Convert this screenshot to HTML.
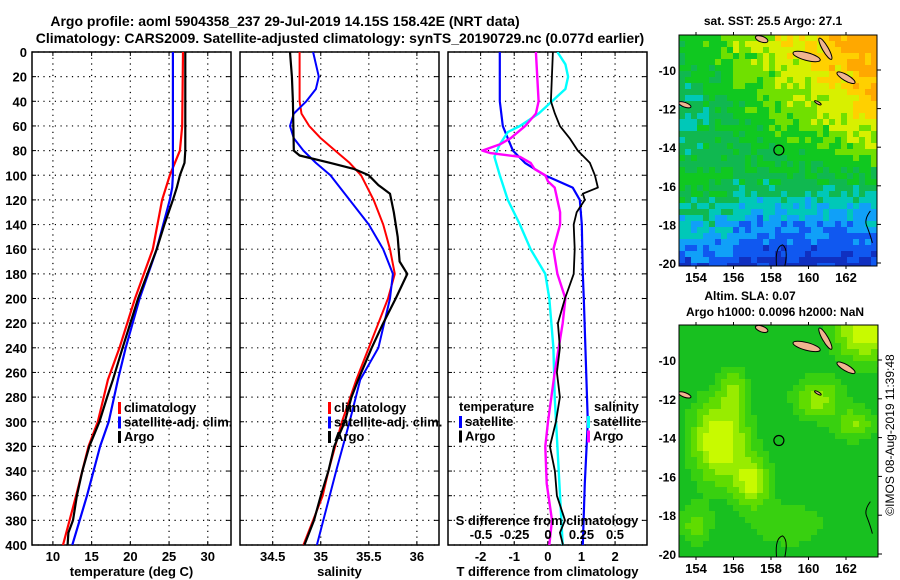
<!DOCTYPE html>
<html><head><meta charset="utf-8"><style>
html,body{margin:0;padding:0;background:#fff;}
svg{display:block;font-family:"Liberation Sans",sans-serif;font-weight:bold;}
</style></head><body>
<svg id="fig" width="900" height="580" viewBox="0 0 900 580" xmlns="http://www.w3.org/2000/svg">
<rect width="900" height="580" fill="#fff"/>
<text x="285" y="26" font-size="14" text-anchor="middle">Argo profile: aoml 5904358_237 29-Jul-2019 14.15S 158.42E (NRT data)</text>
<text x="340" y="43" font-size="14" text-anchor="middle">Climatology: CARS2009. Satellite-adjusted climatology: synTS_20190729.nc (0.077d earlier)</text>
<g id="g"></g>
</svg>
<script>
// ---- temperature profiles ----
const tempArgoDepth=[0,80,90,100,110,120,140,160,200,240,266,280,300,320,340,360,380,390,400];
const tempArgo=[27.1,27.1,27.0,26.4,26.0,25.5,24.4,23.4,21.0,19.0,17.75,17.0,16.0,14.7,13.8,13.1,12.6,12.0,11.9];
const tempClimDepth=[0,60,80,100,120,160,200,240,266,300,320,360,400];
const tempClim=[26.8,26.7,26.4,25.1,24.1,22.9,20.6,18.6,17.1,15.8,14.6,13.0,11.3];
const tempSatDepth=[0,100,110,120,160,200,240,266,300,320,360,400];
const tempSat=[25.5,25.5,25.4,25.1,23.4,21.2,19.4,18.4,17.2,16.1,14.4,12.5];
// ---- salinity profiles ----
const salArgoDepth=[0,20,40,80,84,90,95,100,108,115,130,150,170,180,200,220,240,266,280,300,320,340,360,380,400];
const salArgo=[34.68,34.70,34.71,34.72,34.78,35.1,35.35,35.5,35.6,35.72,35.76,35.8,35.82,35.9,35.78,35.65,35.53,35.39,35.32,35.25,35.14,35.08,35.0,34.93,34.83];
const salClimDepth=[0,40,50,60,70,80,90,100,120,140,160,180,200,220,240,266,300,340,360,380,400];
const salClim=[34.78,34.78,34.8,34.88,35.0,35.15,35.3,35.42,35.55,35.65,35.72,35.77,35.7,35.6,35.5,35.37,35.22,35.08,35.02,34.92,34.82];
const salSatDepth=[0,20,30,40,50,60,70,80,90,100,120,140,160,180,200,240,266,300,340,400];
const salSat=[34.92,34.98,34.95,34.85,34.72,34.68,34.72,34.82,34.95,35.1,35.3,35.5,35.65,35.75,35.72,35.6,35.41,35.3,35.16,34.96];
// ---- differences ----
const tdArgoDepth=[0,40,50,60,70,80,90,100,110,115,120,130,140,160,180,200,220,240,260,280,300,320,340,360,380,390,400];
const tdArgo=[0.15,0.09,0.21,0.36,0.65,0.89,1.25,1.40,1.49,1.04,1.10,0.86,0.77,0.80,0.77,0.51,0.30,0.36,0.27,0.36,0.24,0.06,0.21,0.27,0.51,0.36,0.45];
const tdSatDepth=[0,40,60,70,80,90,100,110,120,140,180,200,300,350,400];
const tdSat=[-1.43,-1.43,-1.34,-1.19,-1.04,-0.68,-0.09,0.74,0.95,1.01,1.04,1.07,1.19,1.10,1.04];
const sdArgoDepth=[0,40,50,60,70,75,80,82,85,90,95,100,105,110,120,130,140,160,180,200,220,260,300,320,350,380,400];
const sdArgo=[-0.09,-0.07,-0.09,-0.17,-0.28,-0.36,-0.49,-0.43,-0.21,-0.13,-0.10,-0.02,0.0,0.05,0.07,0.09,0.09,0.04,0.07,0.13,0.11,0.05,0.0,-0.02,-0.01,0.03,0.01];
const sdSatDepth=[0,10,20,30,40,50,60,65,75,85,100,120,140,160,180,200,240,280,320,400];
const sdSat=[0.07,0.13,0.15,0.13,0.03,-0.07,-0.21,-0.30,-0.36,-0.40,-0.36,-0.30,-0.21,-0.13,-0.02,0.01,0.04,0.05,0.07,0.11];
const depthTicks=[0,20,40,60,80,100,120,140,160,180,200,220,240,260,280,300,320,340,360,380,400];
const tempTicks=[10,15,20,25,30];
const salTicks=[34.5,35,35.5,36];
const tdTicks=[-2,-1,0,1,2];
const sdTicks=[-0.5,-0.25,0,0.25,0.5];
const latTicks=[-10,-12,-14,-16,-18,-20];
const lonTicks=[154,156,158,160,162];
const argoLon=158.42, argoLat=-14.15;

const NS='http://www.w3.org/2000/svg';
const G=document.getElementById('g');
function mk(tag,attrs,parent){const e=document.createElementNS(NS,tag);for(const k in attrs)e.setAttribute(k,attrs[k]);(parent||G).appendChild(e);return e;}
function txt(x,y,s,size,anchor,parent,fill){const t=mk('text',{x:x,y:y,'font-size':size,'text-anchor':anchor||'start',fill:fill||'#000'},parent);t.textContent=s;return t;}

const Y0=52,Y1=545;
function yD(d){return Y0+(d/400)*(Y1-Y0);}
function lin(d0,d1,r0,r1){return v=>r0+(v-d0)/(d1-d0)*(r1-r0);}

const panels=[
 {x0:32,x1:231,sc:lin(7.3,33,32,231),ticks:tempTicks,label:'temperature (deg C)',name:'temperature-panel'},
 {x0:240,x1:439,sc:lin(34.16,36.23,240,439),ticks:salTicks,label:'salinity',name:'salinity-panel'},
 {x0:448,x1:647,sc:lin(-2.97,2.95,448,647),ticks:tdTicks,label:'T difference from climatology',name:'difference-panel'}
];
panels.forEach((p,i)=>{
 const g=mk('g',{});
 
 
 const cp=mk('clipPath',{id:'cp'+i},g);mk('rect',{x:p.x0,y:Y0,width:p.x1-p.x0,height:Y1-Y0},cp);
 depthTicks.forEach(d=>{const y=yD(d);
  mk('line',{x1:p.x0,x2:p.x1,y1:y,y2:y,stroke:'#000','stroke-width':1.2,'stroke-dasharray':'1.2,4.5'},g);
  mk('line',{x1:p.x0,x2:p.x0+4,y1:y,y2:y,stroke:'#000'},g);mk('line',{x1:p.x1-4,x2:p.x1,y1:y,y2:y,stroke:'#000'},g);
  if(i==0){const t=txt(27,y+5,String(d),13,'end',g);}
 });
 p.ticks.forEach(v=>{const x=p.sc(v);
  mk('line',{x1:x,x2:x,y1:Y0,y2:Y1,stroke:'#000','stroke-width':1.2,'stroke-dasharray':'1.2,4.5'},g);
  mk('line',{x1:x,x2:x,y1:Y0,y2:Y0+4,stroke:'#000'},g);mk('line',{x1:x,x2:x,y1:Y1-4,y2:Y1,stroke:'#000'},g);
  const t=txt(x,561,String(v),13,'middle',g);
 });
 mk('rect',{x:p.x0,y:Y0,width:p.x1-p.x0,height:Y1-Y0,fill:'none',stroke:'#000','stroke-width':1.5},g);
 const xl=txt((p.x0+p.x1)/2,576,p.label,13,'middle',g);
 
 p.g=g;
});
function line(pi,depths,vals,color,w,name,sc){
 const p=panels[pi];const f=sc||p.sc;
 const pts=vals.map((v,k)=>f(v).toFixed(1)+','+yD(depths[k]).toFixed(1)).join(' ');
 const pl=mk('polyline',{points:pts,fill:'none',stroke:color,'stroke-width':w,'clip-path':'url(#cp'+pi+')','stroke-linejoin':'round'},p.g);
 
 
}
line(0,tempClimDepth,tempClim,'#f00',2.2,'temperature-climatology-line');
line(0,tempSatDepth,tempSat,'#00f',2.2,'temperature-satellite-line');
line(0,tempArgoDepth,tempArgo,'#000',2.2,'temperature-argo-line');
line(1,salClimDepth,salClim,'#f00',2,'salinity-climatology-line');
line(1,salSatDepth,salSat,'#00f',2,'salinity-satellite-line');
line(1,salArgoDepth,salArgo,'#000',2.2,'salinity-argo-line');
const sScale=lin(-0.5,0.5,481,615);
line(2,tdSatDepth,tdSat,'#00f',2.2,'t-diff-satellite-line');
line(2,sdSatDepth,sdSat,'#0ff',2.4,'s-diff-satellite-line',sScale);
line(2,sdArgoDepth,sdArgo,'#f0f',2.4,'s-diff-argo-line',sScale);
line(2,tdArgoDepth,tdArgo,'#000',1.8,'t-diff-argo-line');

function legend(x,y,items,name){
 const g=mk('g',{});
 items.forEach((it,k)=>{const yy=y+k*14.5;
  if(it[1])mk('rect',{x:x,y:yy-10,width:3,height:12,fill:it[1]},g);
  txt(x+(it[1]?6:0),yy,it[0],13,'start',g);
 });
}
legend(118,412,[['climatology','#f00'],['satellite-adj. clim.','#00f'],['Argo','#000']],'temperature-legend');
legend(328,412,[['climatology','#f00'],['satellite-adj. clim.','#00f'],['Argo','#000']],'salinity-legend');
legend(459,411,[['temperature',null]],'diff-legend-temperature-title');
legend(459,426,[['satellite','#00f'],['Argo','#000']],'diff-legend-temperature');
legend(594,411,[['salinity',null]],'diff-legend-salinity-title');
legend(587,426,[['satellite','#0ff'],['Argo','#f0f']],'diff-legend-salinity');
{const t=txt(547,525,'S difference from climatology',13,'middle',panels[2].g);}
sdTicks.forEach(v=>{const t=txt(sScale(v),539,String(v),13,'middle',panels[2].g);});

// ---- maps ----
function hash(i,j){let h=(i*374761393+j*668265263)^0x5bd1e995;h=(h^(h>>>13))*1274126177;return ((h^(h>>>16))>>>0)/4294967296;}
function clamp(v,a,b){return Math.max(a,Math.min(b,v));}
function sstColor(lon,lat,i,j){
 let v=0.25*(lat+15.5)+0.3*(lon-158)*clamp((lat+16)/4,0,1)+(lat<-15.5?0.3*(lat+15.5):0)+(hash(i,j)-0.5)*0.9;
 if(lat<-15&&lon<156)v+=0.5;
 const cm=[[-2.3,'#1030c0'],[-1.6,'#1058f0'],[-1.0,'#10a0f8'],[-0.45,'#00c8b8'],[0.15,'#10b850'],[0.9,'#10c820'],[1.5,'#70e000'],[2.2,'#d8f000'],[2.8,'#ffd000'],[99,'#ffa800']];
 for(const c of cm)if(v<c[0])return c[1];
}
function slaColor(lon,lat){
 const b=[[155.3,-14.2,1.4,2.0,1.0],[157,-16.3,0.9,1.2,0.8],[160.5,-12,1.2,1.0,0.6],[163,-8.5,1.5,1.5,0.9],[162.5,-13.3,1.0,0.8,0.5],[156,-11.5,0.7,1.0,0.5],[154,-18.5,0.8,1.0,0.4],[159,-18.5,2,1.2,0.25]];
 let v=0;b.forEach(q=>{v+=q[4]*Math.exp(-(((lon-q[0])/q[2])**2+((lat-q[1])/q[3])**2));});
 const cm=[[0.12,'#18c020'],[0.3,'#38d010'],[0.5,'#60dc00'],[0.72,'#98ec00'],[99,'#c8fa00']];
 for(const c of cm)if(v<c[0])return c[1];
}
function drawMap(cfg){
 const g=mk('g',{});
 const lx=lin(154,162,696,846),ly=lin(-10,-20,cfg.yTop10,cfg.yTop20);
 const cell=cfg.cell;
 for(let i=0;i*cell<cfg.x1-cfg.x0;i++)for(let j=0;j*cell<cfg.y1-cfg.y0;j++){
  const x=cfg.x0+i*cell,y=cfg.y0+j*cell;
  const lon=154+(x+cell/2-696)/18.75,lat=-10-(y+cell/2-cfg.yTop10)/((cfg.yTop20-cfg.yTop10)/10);
  mk('rect',{x:x,y:y,width:Math.min(cell,cfg.x1-x)+0.3,height:Math.min(cell,cfg.y1-y)+0.3,fill:cfg.color(lon,lat,i,j)},g);
 }
 const cp=mk('clipPath',{id:'mc'+cfg.name},g);mk('rect',{x:cfg.x0,y:cfg.y0,width:cfg.x1-cfg.x0,height:cfg.y1-cfg.y0},cp);
 const ig=mk('g',{'clip-path':'url(#mc'+cfg.name+')'},g);
 [[159.9,-9.3,0.75,0.2,15],[160.9,-8.9,0.65,0.15,60],[162.0,-10.4,0.55,0.16,30],[157.5,-8.4,0.35,0.15,20],[153.4,-11.8,0.35,0.12,20],[160.5,-11.7,0.2,0.06,30]].forEach(s=>{
  const e=mk('ellipse',{cx:lx(s[0]),cy:ly(s[1]),rx:s[2]*18.75,ry:s[3]*19.3,fill:'#f0b490',stroke:'#000','stroke-width':1,transform:'rotate('+s[4]+' '+lx(s[0])+' '+ly(s[1])+')'},ig);
  
 });
 mk('path',{d:'M'+lx(158.3)+','+ly(-20.2)+' q-2,-20 6,-22 q6,4 2,22',fill:'none',stroke:'#000'},ig);
 mk('path',{d:'M'+lx(163.3)+','+ly(-17.3)+' q-6,8 -4,14 q4,10 6,18',fill:'none',stroke:'#000'},ig);
 const c=mk('circle',{cx:lx(argoLon),cy:ly(argoLat),r:5,fill:'none',stroke:'#000','stroke-width':1.2},g);
 
 mk('rect',{x:cfg.x0,y:cfg.y0,width:cfg.x1-cfg.x0,height:cfg.y1-cfg.y0,fill:'none',stroke:'#000','stroke-width':1},g);
 latTicks.forEach(v=>{const y=ly(v);mk('line',{x1:cfg.x1,x2:cfg.x1+4,y1:y,y2:y,stroke:'#000'},g);
  const t=txt(cfg.x0-3,y+5,String(v),12,'end',g);});
 lonTicks.forEach(v=>{const x=lx(v);mk('line',{x1:x,x2:x,y1:cfg.y1,y2:cfg.y1+3,stroke:'#000'},g);mk('line',{x1:x,x2:x,y1:cfg.y0-3,y2:cfg.y0,stroke:'#000'},g);
  const t=txt(x,cfg.y1+16,String(v),13,'middle',g);});
 cfg.titles.forEach((s,k)=>{const t=txt(cfg.tx[k],cfg.ty[k],s,12,'middle',g);});
}
drawMap({name:'sst-map',x0:679,x1:877,y0:35,y1:266,yTop10:70,yTop20:263,cell:6,color:sstColor,titles:['sat. SST: 25.5 Argo: 27.1'],tx:[773],ty:[25]});
drawMap({name:'sla-map',x0:679,x1:878,y0:325,y1:557,yTop10:360,yTop20:554,cell:6,color:slaColor,titles:['Altim. SLA: 0.07','Argo h1000: 0.0096 h2000: NaN'],tx:[750,775],ty:[300,316]});
{const t=txt(0,0,'©IMOS 08-Aug-2019 11:39:48',12,'middle');t.setAttribute('transform','translate(894,435) rotate(-90)');t.setAttribute('font-weight','normal');
}
</script>
</body></html>
